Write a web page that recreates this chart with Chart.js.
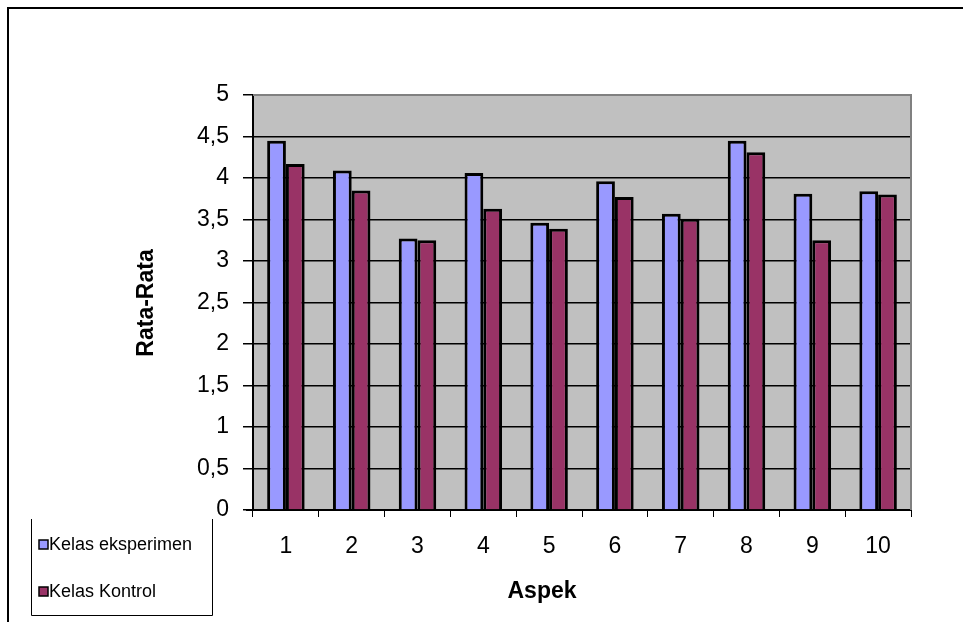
<!DOCTYPE html>
<html>
<head>
<meta charset="utf-8">
<script src="https://cdn.jsdelivr.net/npm/chart.js@4/dist/chart.umd.min.js"></script>
<style>
  html, body { margin: 0; padding: 0; background: #fff; }
  #wrap { width: 963px; height: 622px; position: relative; }
</style>
</head>
<body>
<div id="wrap"><canvas id="barChart" width="963" height="622"></canvas></div>
<script>
const aspek = ['1', '2', '3', '4', '5', '6', '7', '8', '9', '10'];
const kelasEksperimen = [4.45, 4.09, 3.27, 4.06, 3.46, 3.96, 3.57, 4.45, 3.81, 3.84];
const kelasKontrol = [4.17, 3.85, 3.25, 3.63, 3.39, 3.77, 3.51, 4.31, 3.25, 3.80];
const yTicks = [0, 0.5, 1, 1.5, 2, 2.5, 3, 3.5, 4, 4.5, 5];

const font = 'Liberation Sans, Arial, sans-serif';

// frame, gray plot background, axis titles and the boxed legend
const decor = {
  id: 'decor',
  beforeDraw(chart) {
    const c = chart.ctx, a = chart.chartArea;
    c.save();
    c.fillStyle = '#fff';
    c.fillRect(0, 0, chart.width, chart.height);
    c.fillStyle = '#c0c0c0';
    c.fillRect(a.left, a.top, a.right - a.left, a.bottom - a.top);
    c.strokeStyle = '#000';
    c.lineWidth = 2;
    c.beginPath();
    c.moveTo(963, 8); c.lineTo(8, 8); c.lineTo(8, 622);
    c.stroke();
    c.restore();
  },
  afterDraw(chart) {
    const c = chart.ctx, a = chart.chartArea;
    c.save();
    // plot border top/right
    c.strokeStyle = '#808080';
    c.lineWidth = 2;
    c.beginPath();
    c.moveTo(a.left, a.top); c.lineTo(a.right, a.top); c.lineTo(a.right, a.bottom);
    c.stroke();
    // x axis stub left of the y axis
    c.strokeStyle = '#000';
    c.beginPath();
    c.moveTo(a.left - 7, a.bottom); c.lineTo(a.left, a.bottom);
    c.stroke();
    // axis titles
    c.fillStyle = '#000';
    c.font = 'bold 23px ' + font;
    c.textAlign = 'center';
    c.textBaseline = 'middle';
    c.fillText('Aspek', 542, 592);
    c.translate(147, 303);
    c.rotate(-Math.PI / 2);
    c.fillText('Rata-Rata', 0, 0);
    c.restore();

    // legend box
    c.save();
    c.strokeStyle = '#000';
    c.lineWidth = 1;
    c.beginPath();
    c.moveTo(31.5, 519); c.lineTo(31.5, 615.5); c.lineTo(212.5, 615.5); c.lineTo(212.5, 519);
    c.stroke();
    c.font = '18px ' + font;
    c.textBaseline = 'middle';
    c.textAlign = 'left';
    const ys = [544, 591];
    chart.data.datasets.forEach((ds, i) => {
      c.fillStyle = ds.backgroundColor;
      c.fillRect(39, ys[i] - 4, 9, 9);
      c.strokeStyle = '#000';
      c.lineWidth = 1.5;
      c.strokeRect(39, ys[i] - 4, 9, 9);
      c.fillStyle = '#000';
      c.fillText(ds.label, 49, ys[i] + 1);
    });
    c.restore();
  }
};

new Chart(document.getElementById('barChart'), {
  type: 'bar',
  data: {
    labels: aspek,
    datasets: [{
      label: 'Kelas eksperimen',
      data: kelasEksperimen,
      backgroundColor: '#9999ff',
      borderColor: '#000',
      borderWidth: 3,
      categoryPercentage: 0.57,
      barPercentage: 1
    }, {
      label: 'Kelas Kontrol',
      data: kelasKontrol,
      backgroundColor: '#993366',
      borderColor: '#000',
      borderWidth: 3,
      categoryPercentage: 0.57,
      barPercentage: 1
    }]
  },
  options: {
    responsive: false,
    animation: false,
    layout: { padding: { top: 95, right: 52, left: 0, bottom: 0 } },
    plugins: {
      legend: { display: false },
      tooltip: { enabled: false }
    },
    scales: {
      x: {
        grid: {
          offset: true,
          drawOnChartArea: false,
          drawTicks: true,
          tickLength: 7,
          color: '#000'
        },
        border: { color: '#000', width: 2 },
        ticks: { color: '#000', font: { family: font, size: 23 }, padding: 16 },
        afterFit(s) { s.height = 112; }
      },
      y: {
        min: 0,
        max: 5,
        afterBuildTicks(s) { s.ticks = yTicks.map(v => ({ value: v })); },
        grid: { color: '#000', lineWidth: 1.5, tickLength: 10 },
        border: { color: '#000', width: 2 },
        ticks: {
          color: '#000',
          font: { family: font, size: 23 },
          padding: 14,
          callback: v => String(v).replace('.', ',')
        },
        afterFit(s) { s.width = 253; }
      }
    }
  },
  plugins: [decor]
});
</script>
</body>
</html>
